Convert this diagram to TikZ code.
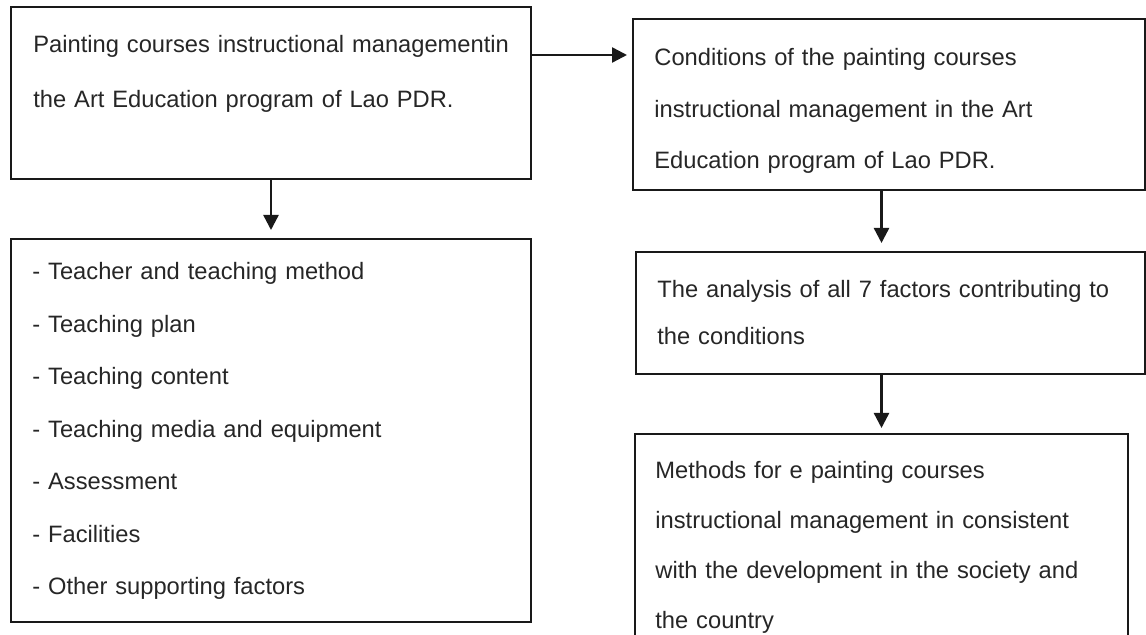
\documentclass[tikz,border=0pt]{standalone}
\usepackage{fontspec}
\setmainfont{Liberation Sans}
\usetikzlibrary{arrows.meta}

\tikzset{
    box/.style={draw=black!90, line width=1pt, anchor=north west, inner sep=0pt, outer sep=0pt},
    txt/.style={anchor=base west, inner sep=0pt, align=left, text=black!85,
        font=\fontsize{11.85pt}{#1}\selectfont},
    arr/.style={-{Triangle[length=7.5pt, width=7.5pt]}, line width=1.2pt, draw=black!90}
}

\begin{document}
\begin{tikzpicture}[x=0.5pt, y=-0.5pt]
    \useasboundingbox (0,0) rectangle (1146,635);
    % left column boxes
    \node[box, minimum width=260pt, minimum height=86pt] (b1) at (11,7) {};
    \node[box, minimum width=260pt, minimum height=191.5pt] (b3) at (11,239) {};
    % right column boxes
    \node[box, minimum width=256pt, minimum height=85.5pt] (b2) at (633,19) {};
    \node[box, minimum width=254.5pt, minimum height=61pt] (b4) at (636,252) {};
    % last box runs past the bottom edge
    \node[box, minimum width=246.5pt, minimum height=113pt] (b5) at (635,434) {};

    % texts in the boxes
    \node[txt=27.5pt, text width=250pt] (t1) at ([shift={(22,46)}]b1.north west)
        {Painting courses instructional managementin\\the Art Education program of Lao PDR.};
    \node[txt=25.75pt, text width=245pt] (t2) at ([shift={(21,47)}]b2.north west)
        {Conditions of the painting courses\\instructional management in the Art\\Education program of Lao PDR.};
    \node[txt=26.25pt, text width=250pt] (t3) at ([shift={(21,41)}]b3.north west)
        {- Teacher and teaching method\\- Teaching plan\\- Teaching content\\- Teaching media and equipment\\- Assessment\\- Facilities\\- Other supporting factors};
    \node[txt=23.5pt, text width=245pt] (t4) at ([shift={(21,46)}]b4.north west)
        {The analysis of all 7 factors contributing to\\the conditions};
    \node[txt=25pt, text width=240pt] (t5) at ([shift={(20,45)}]b5.north west)
        {Methods for e painting courses\\instructional management in consistent\\with the development in the society and\\the country};

    % arrow to the right
    \coordinate (a1) at ([yshift=-24pt]b1.north east);
    \draw[arr, shorten >=3pt] (a1) -- (a1 -| b2.west);
    % arrows down
    \draw[arr, shorten >=4.5pt] (b1.south) -- (b3.north);
    \draw[arr, shorten >=4.5pt] (b2.south -| b5.north) -- (b4.north -| b5.north);
    \draw[arr, shorten >=3pt] (b4.south -| b5.north) -- (b5.north);
\end{tikzpicture}
\end{document}
